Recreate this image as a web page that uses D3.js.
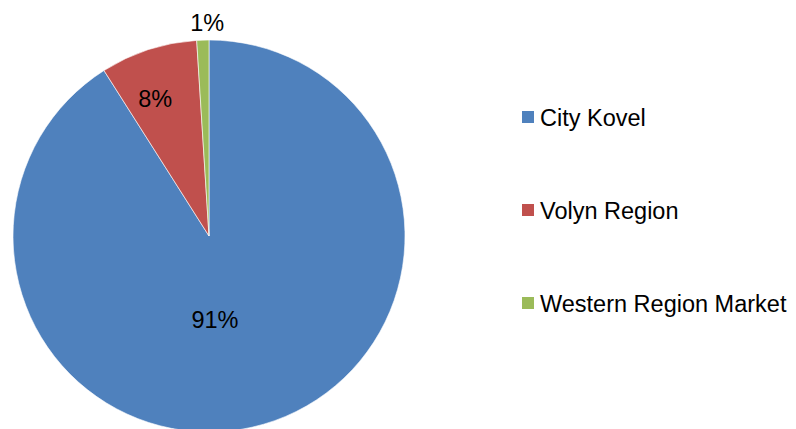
<!DOCTYPE html>
<html>
<head>
<meta charset="utf-8">
<script src="https://cdn.jsdelivr.net/npm/d3@7"></script>
<style>
  body { margin: 0; background: #fff; }
  text { font-family: "Liberation Sans", Arial, sans-serif; }
</style>
</head>
<body>
<div id="chart"></div>
<script>
var categories = ["City Kovel", "Volyn Region", "Western Region Market"];
var values = [91, 8, 1];
var labels = ["91%", "8%", "1%"];
var colors = ["#4F81BD", "#C0504D", "#9BBB59"];

var width = 796, height = 429;
var cx = 209, cy = 236, radius = 196;

var svg = d3.select("#chart")
  .append("svg")
  .attr("width", width)
  .attr("height", height);

var pie = d3.pie().sort(null).value(function (d) { return d; });
var arcs = pie(values);

var arc = d3.arc().innerRadius(0).outerRadius(radius);

var g = svg.append("g")
  .attr("transform", "translate(" + cx + "," + cy + ")");

g.selectAll("path")
  .data(arcs)
  .enter()
  .append("path")
  .attr("d", arc)
  .attr("fill", function (d, i) { return colors[i]; })
  .attr("stroke", "#fff")
  .attr("stroke-width", 0.6);

// label placement (roughly Excel "best fit")
var labelR = [86, 145, 214];
var labelNudge = [-18, -9, 5];

g.selectAll("text.lbl")
  .data(arcs)
  .enter()
  .append("text")
  .attr("class", "lbl")
  .attr("transform", function (d, i) {
    var c = d3.arc().innerRadius(labelR[i]).outerRadius(labelR[i]).centroid(d);
    return "translate(" + (c[0] + labelNudge[i]) + "," + (c[1] + 1) + ")";
  })
  .attr("text-anchor", "middle")
  .attr("dominant-baseline", "central")
  .attr("font-size", "23.5px")
  .attr("fill", "#000")
  .text(function (d, i) { return labels[i]; });

// legend
var legendY = d3.scalePoint()
  .domain(categories)
  .range([117, 303]);

var legend = svg.append("g")
  .selectAll("g")
  .data(categories)
  .enter()
  .append("g")
  .attr("transform", function (d) { return "translate(522," + legendY(d) + ")"; });

legend.append("rect")
  .attr("x", 0)
  .attr("y", -6)
  .attr("width", 12)
  .attr("height", 12)
  .attr("fill", function (d, i) { return colors[i]; });

legend.append("text")
  .attr("x", 18)
  .attr("y", 1)
  .attr("dominant-baseline", "central")
  .attr("font-size", "23.5px")
  .attr("fill", "#000")
  .text(function (d) { return d; });
</script>
</body>
</html>
